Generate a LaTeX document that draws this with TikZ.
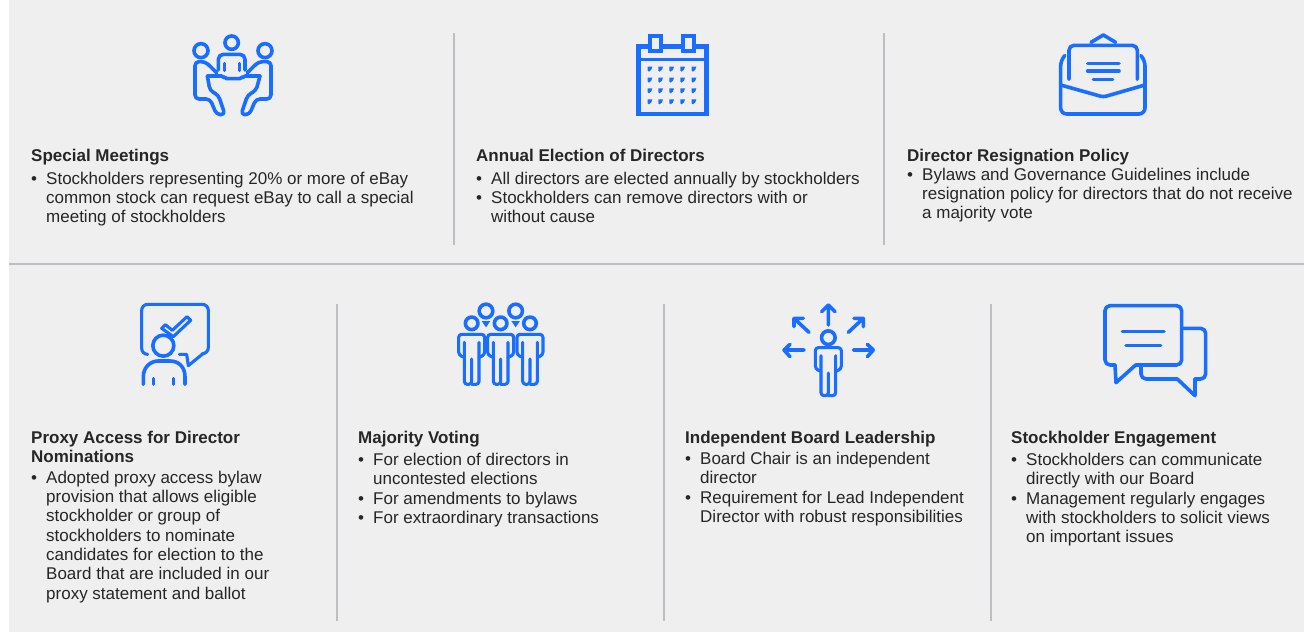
\documentclass[tikz,border=0pt]{standalone}
\usepackage{fontspec}
\setmainfont{Liberation Sans}
\definecolor{panel}{HTML}{EFEFEF}
\definecolor{rule}{HTML}{BDBDC2}
\definecolor{ink}{HTML}{262626}
\definecolor{ic}{HTML}{1A6EFF}
\newcommand{\txtfont}{\fontsize{17}{19.3}\selectfont}
\tikzset{
  ico/.style={draw=ic,line width=3.6pt,line cap=round,line join=round},
  thin ico/.style={draw=ic,line width=3.1pt,line cap=round,line join=round},
  sep/.style={draw=rule,line width=1.6pt},
  head/.style={anchor=north west,inner sep=0pt,text=ink,font=\txtfont\bfseries,align=left},
  itm/.style={anchor=north west,inner sep=0pt,text=ink,font=\txtfont,align=left},
}
\newcommand{\bodyfig}[4]{% cx, top, arm bottom, foot
  \draw[thin ico,rounded corners=3pt] (#1-22,#3+7) -- (#1-39,#3) -- (#1-39,#2) -- (#1+39,#2) -- (#1+39,#3) -- (#1+22,#3+7);
  \draw[thin ico,rounded corners=3pt] (#1-22,#2+24) -- (#1-22,#4) -- (#1,#4) -- (#1,#3+12) (#1,#4) -- (#1+22,#4) -- (#1+22,#2+24);
}
\begin{document}
\begin{tikzpicture}[x=1pt,y=-1pt]
\useasboundingbox (0,0) rectangle (1304,632);
\fill[panel] (9,0) rectangle (1304,632);
\draw[sep] (9,264) -- (1304,264);
\coordinate (s1a) at (454,33); \coordinate (s1b) at (454,245);
\coordinate (s2a) at (884,33); \coordinate (s2b) at (884,245);
\coordinate (s3a) at (337,304); \coordinate (s3b) at (337,621);
\coordinate (s4a) at (664,304); \coordinate (s4b) at (664,621);
\coordinate (s5a) at (991,304); \coordinate (s5b) at (991,621);
\draw[sep] (s1a)--(s1b) (s2a)--(s2b) (s3a)--(s3b) (s4a)--(s4b) (s5a)--(s5b);

% Icon: meeting
\begin{scope}[shift={(170,20)},x=0.3333pt,y=-0.3333pt]
 \draw[ico] (185,68) circle (6.7pt);
 \draw[ico] (93,92) circle (7pt);
 \draw[ico] (285,92) circle (7pt);
 \draw[ico,rounded corners=5pt] (145,150) -- (145,103) -- (225,103) -- (225,150);
 \draw[thin ico] (163,130)--(163,152) (208,130)--(208,152);
 \draw[ico,rounded corners=2pt] (112,168)--(160,168)--(165,176)--(215,176)--(220,168)--(270,168);
 \draw[ico,rounded corners=4pt] (140,158)--(106,125)--(75,125)--(75,237)--(120,237)--(140,284)--(165,284)--(145,225)--(120,212)--(112,168);
 \draw[ico,rounded corners=4pt] (232,158)--(266,125)--(303,125)--(303,237)--(258,237)--(238,284)--(213,284)--(233,225)--(258,212)--(270,168);
\end{scope}

% Icon: calendar
\begin{scope}[shift={(620,20)},x=0.3333pt,y=-0.3333pt]
 \draw[draw=ic,line width=4.4pt] (55,80) rectangle (259,282);
 \draw[draw=ic,line width=3.2pt] (52,118) -- (262,118);
 \draw[draw=ic,line width=4pt,fill=panel] (91,47) rectangle (122,93);
 \draw[draw=ic,line width=4pt,fill=panel] (190,47) rectangle (221,93);
 \foreach \xx in {90,122,155,188,222}
  \foreach \yy in {147,180,212,245}
   \fill[ic] (\xx-7,\yy-7) -- (\xx+7,\yy-7) -- (\xx+4,\yy+2) -- (\xx-3,\yy+8) -- (\xx-7,\yy+5) -- cycle;
\end{scope}

% Icon: envelope
\begin{scope}[shift={(1045,20)},x=0.3333pt,y=-0.3333pt]
 \draw[ico] (138,67)--(175,45)--(212,67);
 \draw[ico,rounded corners=5pt] (72,178)--(72,76)--(277,76)--(277,178);
 \draw[ico] (128,130)--(222,130) (128,153)--(222,153) (145,178)--(203,178);
 \draw[ico,rounded corners=6pt] (58,108)--(47,120)--(47,282)--(300,282)--(300,120)--(289,108);
 \draw[ico,rounded corners=3pt] (47,195)--(175,231)--(300,195);
\end{scope}

% Icon: proxy
\begin{scope}[shift={(125,295)},x=0.3333pt,y=-0.3333pt]
 \draw[thin ico,rounded corners=6pt] (68,178)--(50,178)--(50,28)--(250,28)--(250,176)--(232,176);
 \draw[thin ico] (234,176)--(190,212)--(185,178)--(163,178);
 \draw[thin ico] (110,100)--(121,89)--(142,106)--(186,65)--(197,76)--(145,125)--cycle;
 \draw[ico] (115,152) circle (10.5pt);
 \draw[ico] (55,268)--(55,245) .. controls (55,215) and (78,198) .. (100,198) -- (135,198) .. controls (160,198) and (180,215) .. (180,245) -- (180,268);
 \draw[thin ico] (85,250)--(85,268) (145,250)--(145,268);
\end{scope}

% Icon: voting
\begin{scope}[shift={(450,295)},x=0.3333pt,y=-0.3333pt]
 \draw[ico] (108,48) circle (6.8pt);
 \draw[ico] (197,48) circle (6.8pt);
 \draw[ico] (65,85) circle (6.3pt);
 \draw[ico] (152,85) circle (6.3pt);
 \draw[ico] (240,85) circle (6.3pt);
 \fill[ic] (95,78)--(121,78)--(108,97)--cycle;
 \fill[ic] (184,78)--(210,78)--(197,97)--cycle;
 \bodyfig{65}{118}{180}{268}
 \bodyfig{152}{118}{180}{268}
 \bodyfig{240}{118}{180}{268}
\end{scope}

% Icon: leadership
\begin{scope}[shift={(770,295)},x=0.3333pt,y=-0.3333pt]
 \draw[ico] (175,128) circle (6.8pt);
 \bodyfig{175}{158}{222}{302}
 \draw[ico] (175,90)--(175,32) (155,50)--(175,30)--(195,50);
 \draw[ico] (102,165)--(42,165) (60,148)--(42,165)--(60,185);
 \draw[ico] (250,165)--(310,165) (292,148)--(310,165)--(292,185);
 \draw[ico] (117,112)--(72,70) (72,95)--(72,70)--(100,70);
 \draw[ico] (235,112)--(280,70) (252,70)--(280,70)--(280,95);
\end{scope}

% Icon: engagement
\begin{scope}[shift={(1090,295)},x=0.3333pt,y=-0.3333pt]
 \draw[ico,rounded corners=5pt] (75,210)--(45,210)--(45,32)--(275,32)--(275,210)--(137,210);
 \draw[ico] (137,210)--(78,263)--(75,210);
 \draw[ico] (222,110)--(97,110) (108,152)--(212,152);
 \draw[ico,rounded corners=5pt] (275,100)--(347,100)--(347,252)--(315,252);
 \draw[ico] (315,252)--(315,302)--(262,252);
 \draw[ico,rounded corners=5pt] (262,252)--(153,252)--(153,212);
\end{scope}

% Text
\begin{scope}[shift={(0,0.6)}]
\node[head] (h1) at (31,147) {\strut Special Meetings};
\node[itm] (b1) at (31,170) {\strut •};
\node[itm] (t1) at (46,170) {\strut Stockholders representing 20\% or more of eBay\\common stock can request eBay to call a special\\meeting of stockholders};

\node[head] (h2) at (476,147) {\strut Annual Election of Directors};
\node[itm] (b2a) at (476,170) {\strut •};
\node[itm] (t2a) at (491,170) {\strut All directors are elected annually by stockholders};
\node[itm] (b2b) at (476,189) {\strut •};
\node[itm] (t2b) at (491,189) {\strut Stockholders can remove directors with or\\without cause};

\node[head] (h3) at (907,147) {\strut Director Resignation Policy};
\node[itm] (b3) at (907,166) {\strut •};
\node[itm] (t3) at (922,166) {\strut Bylaws and Governance Guidelines include\\resignation policy for directors that do not receive\\a majority vote};

\node[head] (h4) at (31,429) {\strut Proxy Access for Director\\Nominations};
\node[itm] (b4) at (31,469) {\strut •};
\node[itm] (t4) at (46,469) {\strut Adopted proxy access bylaw\\provision that allows eligible\\stockholder or group of\\stockholders to nominate\\candidates for election to the\\Board that are included in our\\proxy statement and ballot};

\node[head] (h5) at (358,429) {\strut Majority Voting};
\node[itm] (b5a) at (358,451) {\strut •};
\node[itm] (t5a) at (373,451) {\strut For election of directors in\\uncontested elections};
\node[itm] (b5b) at (358,490) {\strut •};
\node[itm] (t5b) at (373,490) {\strut For amendments to bylaws};
\node[itm] (b5c) at (358,509) {\strut •};
\node[itm] (t5c) at (373,509) {\strut For extraordinary transactions};

\node[head] (h6) at (685,429) {\strut Independent Board Leadership};
\node[itm] (b6a) at (685,450) {\strut •};
\node[itm] (t6a) at (700,450) {\strut Board Chair is an independent\\director};
\node[itm] (b6b) at (685,489) {\strut •};
\node[itm] (t6b) at (700,489) {\strut Requirement for Lead Independent\\Director with robust responsibilities};

\node[head] (h7) at (1011,429) {\strut Stockholder Engagement};
\node[itm] (b7a) at (1011,451) {\strut •};
\node[itm] (t7a) at (1026,451) {\strut Stockholders can communicate\\directly with our Board};
\node[itm] (b7b) at (1011,490) {\strut •};
\node[itm] (t7b) at (1026,490) {\strut Management regularly engages\\with stockholders to solicit views\\on important issues};
\end{scope}
\end{tikzpicture}
\end{document}
